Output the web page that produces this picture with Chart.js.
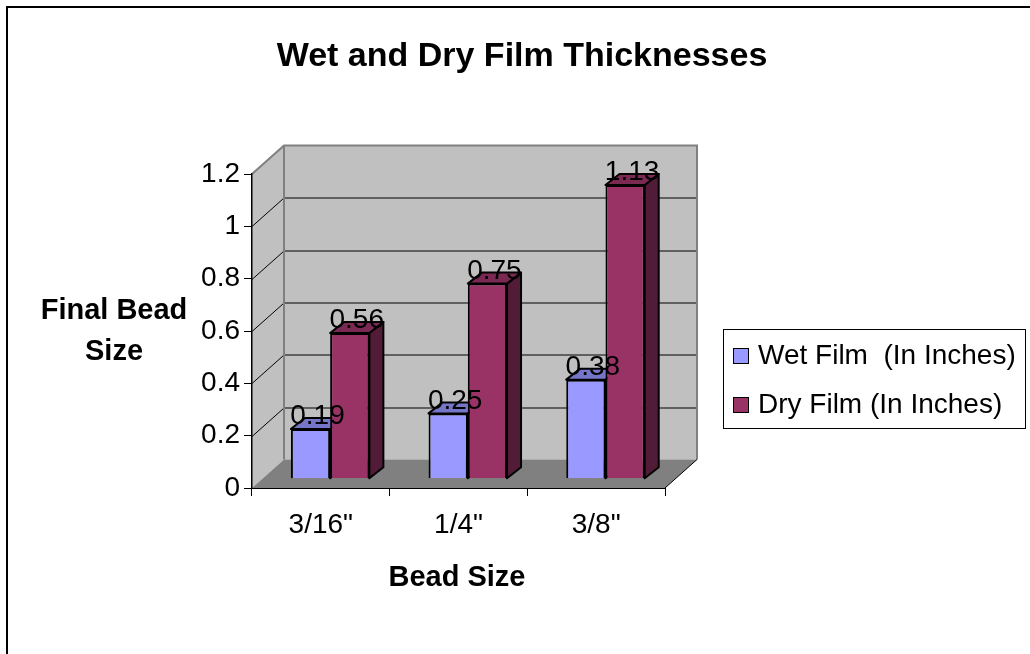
<!DOCTYPE html>
<html>
<head>
<meta charset="utf-8">
<title>Wet and Dry Film Thicknesses</title>
<script src="https://cdn.jsdelivr.net/npm/chart.js@4/dist/chart.umd.min.js"></script>
<style>
  html, body { margin: 0; padding: 0; background: #ffffff; }
  canvas { display: block; }
</style>
</head>
<body>
<canvas id="chart" width="1030" height="654"></canvas>
<script>
// Chart data
const categories = ['3/16"', '1/4"', '3/8"'];
const wetFilm = [0.19, 0.25, 0.38];
const dryFilm = [0.56, 0.75, 1.13];
const seriesNames = ['Wet Film  (In Inches)', 'Dry Film (In Inches)'];
const yTicks = [0, 0.2, 0.4, 0.6, 0.8, 1, 1.2];
const chartTitle = 'Wet and Dry Film Thicknesses';
const yTitleLines = ['Final Bead', 'Size'];
const xTitle = 'Bead Size';

// Styling
const FONT = '"Liberation Sans", Arial, sans-serif';
const TEXT_SIZE = 28;
const colors = {
  wet: { front: '#9999ff', top: '#7676c9', side: '#5a5aa0' },
  dry: { front: '#993366', top: '#7a2952', side: '#521c38' },
  wall: '#c0c0c0', floor: '#808080', wallEdge: '#808080'
};
const wallDepth = { dx: 32, dy: -28.5 };   // offset from the front plane to the back wall
const barShift = 9.3;                      // bars sit a little behind the front plane
const barDepth = { dx: 14, dy: -11 };      // thickness of each column

function drawColumnFaces(ctx, el, c) {
  const { x, y, base, width } = el.getProps(['x', 'y', 'base', 'width'], true);
  const l = x - width / 2, r = x + width / 2;
  const { dx, dy } = barDepth;
  ctx.lineWidth = 2;
  ctx.lineJoin = 'round';
  ctx.strokeStyle = '#000';
  // right side
  ctx.beginPath();
  ctx.moveTo(r, y); ctx.lineTo(r + dx, y + dy); ctx.lineTo(r + dx, base + dy); ctx.lineTo(r, base);
  ctx.closePath();
  ctx.fillStyle = c.side; ctx.fill(); ctx.stroke();
  // top
  ctx.beginPath();
  ctx.moveTo(l, y); ctx.lineTo(l + dx, y + dy); ctx.lineTo(r + dx, y + dy); ctx.lineTo(r, y);
  ctx.closePath();
  ctx.fillStyle = c.top; ctx.fill(); ctx.stroke();
}

const box3d = {
  id: 'box3d',
  beforeDraw(chart) {
    const { ctx, chartArea: a } = chart;
    const ys = chart.scales.y;
    const { dx, dy } = wallDepth;
    ctx.save();
    ctx.fillStyle = '#fff';
    ctx.fillRect(0, 0, chart.width, chart.height);
    const top = ys.getPixelForValue(yTicks[yTicks.length - 1]);
    const bottom = ys.getPixelForValue(0);
    // back wall
    ctx.fillStyle = colors.wall;
    ctx.fillRect(a.left + dx, top + dy, a.right - a.left, bottom - top);
    // left side wall
    ctx.beginPath();
    ctx.moveTo(a.left, top); ctx.lineTo(a.left + dx, top + dy);
    ctx.lineTo(a.left + dx, bottom + dy); ctx.lineTo(a.left, bottom);
    ctx.closePath(); ctx.fill();
    // floor
    ctx.fillStyle = colors.floor;
    ctx.beginPath();
    ctx.moveTo(a.left, bottom); ctx.lineTo(a.left + dx, bottom + dy);
    ctx.lineTo(a.right + dx, bottom + dy); ctx.lineTo(a.right, bottom);
    ctx.closePath(); ctx.fill();
    // gridlines on back wall and side wall
    ctx.lineWidth = 1;
    ctx.strokeStyle = '#000';
    yTicks.slice(1, -1).forEach(v => {
      const py = Math.round(ys.getPixelForValue(v)) + 0.5;
      ctx.beginPath();
      ctx.moveTo(a.left, py); ctx.lineTo(a.left + dx, py + dy);
      ctx.lineTo(a.right + dx, py + dy);
      ctx.stroke();
    });
    // wall edges
    ctx.strokeStyle = colors.wallEdge;
    ctx.lineWidth = 2;
    ctx.beginPath();
    ctx.moveTo(a.left, top); ctx.lineTo(a.left + dx, top + dy);
    ctx.lineTo(a.right + dx, top + dy); ctx.lineTo(a.right + dx, bottom + dy);
    ctx.moveTo(a.left + dx, top + dy); ctx.lineTo(a.left + dx, bottom + dy);
    ctx.stroke();
    // floor right edge
    ctx.strokeStyle = '#000';
    ctx.lineWidth = 1;
    ctx.beginPath();
    ctx.moveTo(a.right, bottom); ctx.lineTo(a.right + dx, bottom + dy);
    ctx.stroke();
    ctx.restore();
  },
  beforeDatasetsDraw(chart) {
    const ctx = chart.ctx;
    ctx.save();
    ctx.translate(barShift, 0);
    chart.getDatasetMeta(0).data.forEach(el => drawColumnFaces(ctx, el, colors.wet));
  },
  afterDatasetsDraw(chart) {
    const ctx = chart.ctx;
    chart.getDatasetMeta(1).data.forEach(el => drawColumnFaces(ctx, el, colors.dry));
    // value labels
    ctx.fillStyle = '#000';
    ctx.font = TEXT_SIZE + 'px ' + FONT;
    ctx.textAlign = 'center';
    ctx.textBaseline = 'middle';
    chart.data.datasets.forEach((ds, i) => {
      chart.getDatasetMeta(i).data.forEach((el, j) => {
        const { x, y } = el.getProps(['x', 'y'], true);
        ctx.fillText(String(ds.data[j]), x + barDepth.dx / 2, y + barDepth.dy - 1.5);
      });
    });
    ctx.restore();
  },
  afterDraw(chart) {
    const ctx = chart.ctx;
    ctx.save();
    ctx.fillStyle = '#000';
    ctx.textAlign = 'center';
    ctx.textBaseline = 'middle';
    // title
    ctx.font = 'bold 34px ' + FONT;
    ctx.fillText(chartTitle, 522, 57);
    // axis titles
    ctx.font = 'bold 29px ' + FONT;
    ctx.fillText(yTitleLines[0], 114, 311);
    ctx.fillText(yTitleLines[1], 114, 352);
    ctx.fillText(xTitle, 457, 578);
    // legend
    const lg = { x: 723.5, y: 329.5, w: 302, h: 99 };
    ctx.fillStyle = '#fff';
    ctx.fillRect(lg.x, lg.y, lg.w, lg.h);
    ctx.strokeStyle = '#000';
    ctx.lineWidth = 1;
    ctx.strokeRect(lg.x, lg.y, lg.w, lg.h);
    ctx.font = TEXT_SIZE + 'px ' + FONT;
    ctx.textAlign = 'left';
    const rowY = [356, 405];
    chart.data.datasets.forEach((ds, i) => {
      ctx.fillStyle = ds.backgroundColor;
      ctx.fillRect(733.5, rowY[i] - 7.5, 15, 15);
      ctx.strokeRect(733.5, rowY[i] - 7.5, 15, 15);
      ctx.fillStyle = '#000';
      ctx.fillText(ds.label, 758, rowY[i]);
    });
    // outer frame
    ctx.lineWidth = 2;
    ctx.strokeRect(7, 7, 1100, 1100);
    ctx.restore();
  }
};

new Chart(document.getElementById('chart'), {
  type: 'bar',
  data: {
    labels: categories,
    datasets: [
      { label: seriesNames[0], data: wetFilm, backgroundColor: colors.wet.front,
        borderColor: '#000', borderWidth: 2, yAxisID: 'yb', clip: false },
      { label: seriesNames[1], data: dryFilm, backgroundColor: colors.dry.front,
        borderColor: '#000', borderWidth: 2, yAxisID: 'yb', clip: false }
    ]
  },
  options: {
    responsive: false,
    animation: false,
    devicePixelRatio: 1,
    layout: { padding: { top: 174, right: 365, bottom: 0, left: 0 } },
    categoryPercentage: 0.57,
    barPercentage: 1.0,
    plugins: { legend: { display: false }, tooltip: { enabled: false }, title: { display: false } },
    scales: {
      x: {
        afterFit: s => { s.height = 166; },
        grid: { drawOnChartArea: false, tickLength: 8, color: '#000', offset: true },
        border: { display: true, color: '#000', width: 1 },
        ticks: { color: '#000', font: { family: FONT, size: TEXT_SIZE }, padding: 12, maxRotation: 0 }
      },
      y: {
        min: 0, max: 1.2,
        afterFit: s => { s.width = 252; },
        afterBuildTicks: s => { s.ticks = yTicks.map(v => ({ value: v })); },
        grid: { drawOnChartArea: false, tickLength: 8, color: '#000' },
        border: { display: true, color: '#000', width: 1.5 },
        ticks: { color: '#000', font: { family: FONT, size: TEXT_SIZE }, padding: 4,
                 callback: v => String(v) }
      },
      // bar plane: the columns stand slightly behind the front axis
      yb: { display: false, min: -0.0374, max: 1.1722 }
    }
  },
  plugins: [box3d]
});
</script>
</body>
</html>
